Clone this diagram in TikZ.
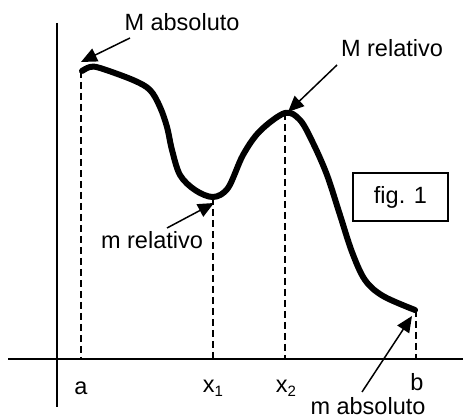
\documentclass[tikz,border=0pt]{standalone}
\usepackage{fontspec}
\setmainfont{Liberation Sans}
\usetikzlibrary{arrows.meta}
\tikzset{
  lbl/.style={font=\fontsize{23.5}{27}\selectfont, inner sep=0pt},
  axisline/.style={line width=2pt},
  guide/.style={line width=1.8pt, dash pattern=on 7pt off 4pt},
  curve/.style={line width=6pt, line cap=round, line join=round},
  pointer/.style={line width=1.5pt, -{Triangle[length=16pt,width=14pt]}},
}
\newcommand{\sub}[1]{{\fontsize{15}{15}\selectfont\raisebox{-4pt}{#1}}}
\begin{document}
\begin{tikzpicture}[x=1pt,y=-1pt]
\useasboundingbox (0,0) rectangle (463,419);
% axes
\coordinate (vtop) at (57,23);
\coordinate (vbot) at (57,407);
\coordinate (hl) at (8,359);
\coordinate (hr) at (463,359);
\draw[axisline] (vtop) -- (vbot);
\draw[axisline] (hl) -- (hr);
% key points
\coordinate (A) at (81,71);
\coordinate (X1) at (213,198);
\coordinate (X2) at (285,113);
\coordinate (B) at (416,310);
\coordinate (Aax) at (81,359);
\coordinate (X1ax) at (213,359);
\coordinate (X2ax) at (285,359);
\coordinate (Bax) at (416,359);
% dashed guides
\draw[guide] (A) -- (Aax);
\draw[guide] (X1) -- (X1ax);
\draw[guide] (X2) -- (X2ax);
\draw[guide] (B) -- (Bax);
% curve
\draw[curve] plot[smooth, tension=0.55] coordinates {
 (82,71) (90,67) (100,68) (133,80) (150,90) (160,107) (167,127) (172,150)
 (180,175) (195,190) (213,197) (228,188) (243,155) (260,131) (285,113)
 (300,120) (313,143) (327,175) (340,215) (352,252) (365,280) (383,296) (415,310)};
% box
\node[lbl, draw, line width=1.6pt, minimum width=95pt, minimum height=48pt] (fig) at (400.5,197) {fig. 1};
% axis labels
\node[lbl] (la) at (81,388) {a};
\node[lbl] (lx1) at (213,388) {x\sub{1}};
\node[lbl] (lx2) at (286,388) {x\sub{2}};
\node[lbl] (lb) at (417,382) {b};
% annotation labels
\node[lbl] (Mabs) at (182,22) {M absoluto};
\node[lbl] (Mrel) at (392,48) {M relativo};
\node[lbl] (mrel) at (152,240) {m relativo};
\node[lbl] (mabs) at (368,406) {m absoluto};
% arrows
\coordinate (t1) at (130,38);
\coordinate (h1) at (81,62);
\coordinate (t2) at (337,65);
\coordinate (h2) at (288,112);
\coordinate (t3) at (167,228);
\coordinate (h3) at (214,203);
\coordinate (t4) at (362,392);
\coordinate (h4) at (412,316);
\draw[pointer] (t1) -- (h1);
\draw[pointer] (t2) -- (h2);
\draw[pointer] (t3) -- (h3);
\draw[pointer] (t4) -- (h4);
\end{tikzpicture}
\end{document}
